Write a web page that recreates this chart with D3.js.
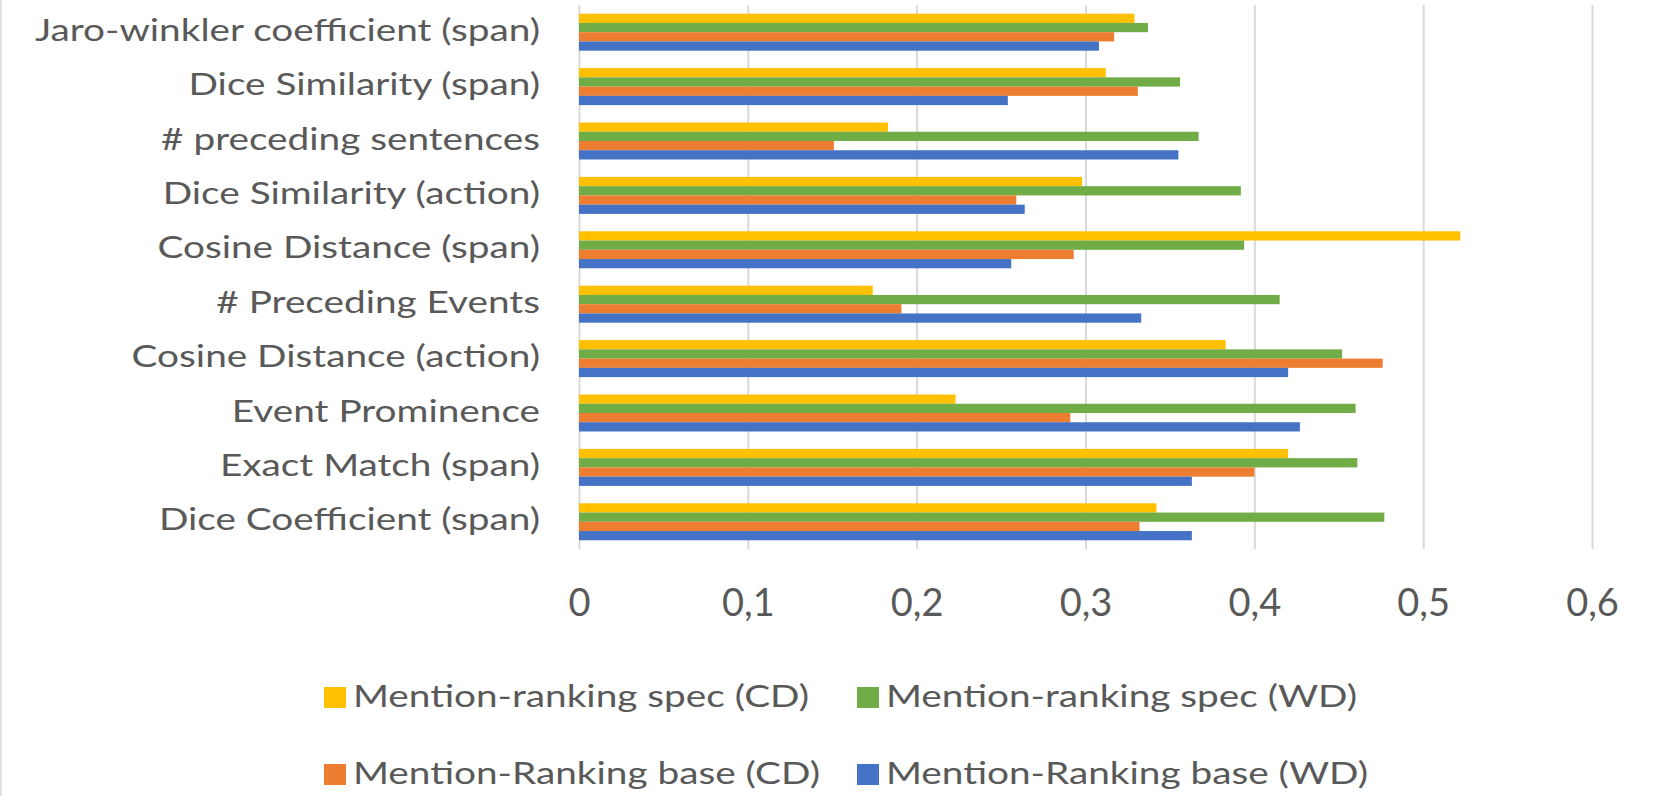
<!DOCTYPE html>
<html>
<head>
<meta charset="utf-8">
<script src="https://cdn.jsdelivr.net/npm/d3@7"></script>
<style>
  html, body { margin: 0; padding: 0; background: #fff; }
  svg { display: block; }
</style>
</head>
<body>
<svg id="chart" width="1665" height="796"></svg>
<script>
const categories = [
  "Jaro-winkler coefficient (span)",
  "Dice Similarity (span)",
  "# preceding sentences",
  "Dice Similarity (action)",
  "Cosine Distance (span)",
  "# Preceding Events",
  "Cosine Distance (action)",
  "Event Prominence",
  "Exact Match (span)",
  "Dice Coefficient (span)"
];
const seriesNames = [
  "Mention-ranking spec (CD)",
  "Mention-ranking spec (WD)",
  "Mention-Ranking base (CD)",
  "Mention-Ranking base (WD)"
];
const specCD  = [0.329, 0.312, 0.183, 0.298, 0.522, 0.174, 0.383, 0.223, 0.420, 0.342];
const specWD  = [0.337, 0.356, 0.367, 0.392, 0.394, 0.415, 0.452, 0.460, 0.461, 0.477];
const baseCD  = [0.317, 0.331, 0.151, 0.259, 0.293, 0.191, 0.476, 0.291, 0.400, 0.332];
const baseWD  = [0.308, 0.254, 0.355, 0.264, 0.256, 0.333, 0.420, 0.427, 0.363, 0.363];
const tickValues = [0, 0.1, 0.2, 0.3, 0.4, 0.5, 0.6];
const colors = ["#FFC000", "#70AD47", "#ED7D31", "#4472C4"];

const seriesValues = [specCD, specWD, baseCD, baseWD];
const FONT = "Lato, 'Open Sans', sans-serif";
const TEXT = "#595959";
const STRETCH = 1.25;

const svg = d3.select("#chart");

const x = d3.scaleLinear().domain([0, 0.6]).range([579, 1592]);
const y = d3.scaleBand().domain(categories).range([5, 549]).paddingInner(0.32).paddingOuter(0.16);
const ySub = d3.scaleBand().domain(seriesNames).range([0, y.bandwidth()]);

// left border of chart area
svg.append("line").attr("x1", 1).attr("x2", 1).attr("y1", 0).attr("y2", 796)
  .attr("stroke", "#D9D9D9").attr("stroke-width", 1.5);

const locale = d3.formatLocale({decimal: ",", thousands: ".", grouping: [3], currency: ["", ""]});
const fmt = locale.format(".1~f");

// gridlines via axis
const grid = svg.append("g").attr("transform", "translate(0,549)")
  .call(d3.axisBottom(x).tickValues(tickValues).tickSize(-544).tickFormat(""));
grid.select(".domain").remove();
grid.selectAll(".tick line").attr("stroke", "#D9D9D9").attr("stroke-width", 2);

// bars
const groups = svg.append("g").selectAll("g")
  .data(categories).join("g")
  .attr("transform", d => `translate(0,${y(d)})`);
groups.selectAll("rect")
  .data((c, i) => seriesNames.map((s, j) => ({s, v: seriesValues[j][i], j})))
  .join("rect")
  .attr("x", x(0))
  .attr("y", d => ySub(d.s))
  .attr("width", d => x(d.v) - x(0))
  .attr("height", ySub.bandwidth())
  .attr("fill", d => colors[d.j]);

// category labels
svg.append("g").selectAll("text")
  .data(categories).join("text")
  .attr("transform", d => `translate(540,${y(d) + y.bandwidth() / 2}) scale(${STRETCH},1)`)
  .attr("dy", "0.28em")
  .attr("text-anchor", "end")
  .attr("font-family", FONT).attr("font-size", 31).attr("fill", TEXT)
  .text(d => d);

// x tick labels
const xAxis = svg.append("g").attr("transform", "translate(0,549)")
  .call(d3.axisBottom(x).tickValues(tickValues).tickSize(0).tickPadding(0).tickFormat(fmt));
xAxis.select(".domain").remove();
xAxis.selectAll(".tick text")
  .attr("y", 67).attr("dy", null)
  .attr("font-family", FONT).attr("font-size", 38).attr("fill", TEXT);

// legend
const legendPos = [[324, 697], [857, 697], [324, 774], [857, 774]];
const leg = svg.append("g").selectAll("g")
  .data(seriesNames).join("g")
  .attr("transform", (d, i) => `translate(${legendPos[i][0]},${legendPos[i][1]})`);
leg.append("rect").attr("x", 0).attr("y", -10).attr("width", 22).attr("height", 21)
  .attr("fill", (d, i) => colors[i]);
leg.append("text").attr("transform", `translate(29,10) scale(${STRETCH},1)`)
  .attr("font-family", FONT).attr("font-size", 31).attr("fill", TEXT)
  .text(d => d);
</script>
</body>
</html>
